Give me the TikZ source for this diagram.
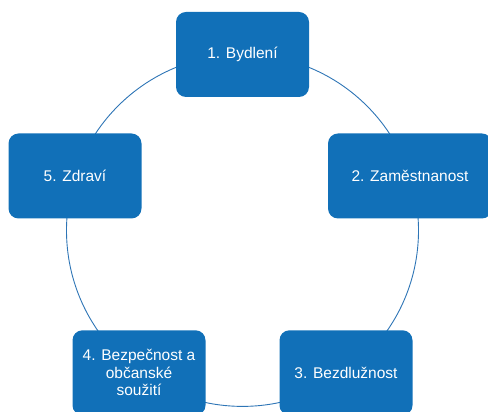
\documentclass[tikz,border=0pt]{standalone}
\usepackage{fontspec}
\setmainfont{Liberation Sans}
\definecolor{boxblue}{HTML}{1170B8}
\definecolor{ringblue}{HTML}{2E75B6}
\begin{document}
\begin{tikzpicture}[x=1pt,y=1pt,
  stepbox/.style={draw=none, fill=boxblue, rounded corners=10pt,
    minimum width=133pt, minimum height=85pt, inner sep=0pt,
    text=white, font=\fontsize{15.5}{17.5}\selectfont, align=center}]
\useasboundingbox (0,0) rectangle (488,412);
\clip (0,0) rectangle (488,412);
\coordinate (c) at (242.5,181.6);
\draw[ringblue, line width=0.9pt] (c) circle (176);
\node[stepbox] (b1) at (242.5,357.5) {1. Bydlení};
\node[stepbox, minimum width=164pt] (b2) at (410,236) {2. Zaměstnanost};
\node[stepbox] (b3) at (346,39.2) {3. Bezdlužnost};
\node[stepbox] (b4) at (139,39.2) {4. Bezpečnost a\\občanské\\soužití};
\node[stepbox] (b5) at (75,236) {5. Zdraví};
\end{tikzpicture}
\end{document}
